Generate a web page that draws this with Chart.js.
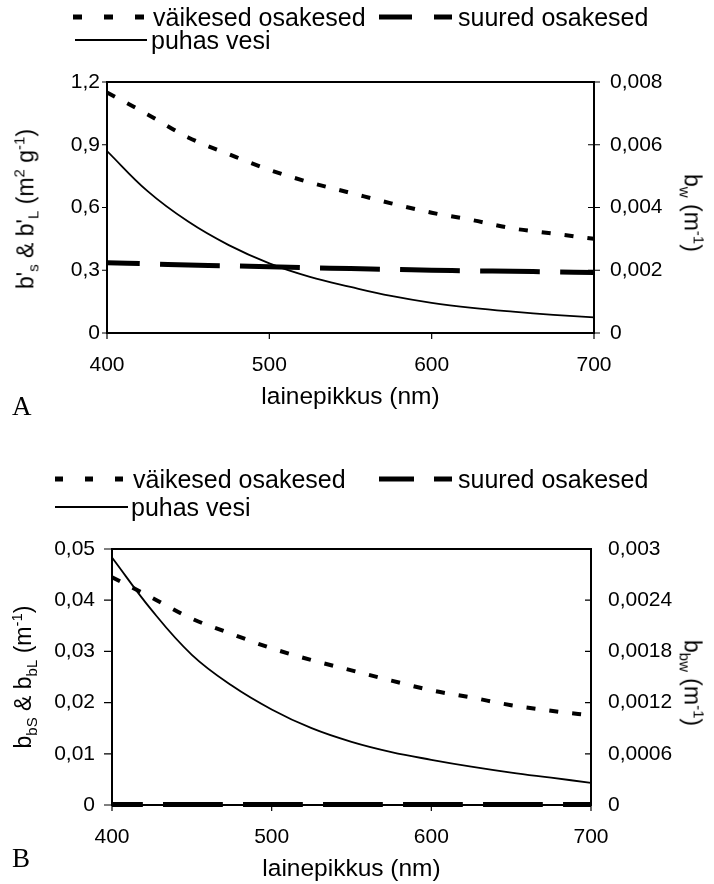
<!DOCTYPE html>
<html>
<head>
<meta charset="utf-8">
<script src="https://cdn.jsdelivr.net/npm/chart.js@4.4.1/dist/chart.umd.min.js"></script>
<style>
  body { margin: 0; background: #fff; }
  #wrap { position: relative; width: 714px; height: 884px; font-family: "Liberation Sans", Arial, sans-serif; color: #000; }
  canvas { position: absolute; left: 0; }
  .txt { position: absolute; font-size: 25px; white-space: nowrap; transform: translateY(-50%); line-height: 1; }
  .smp { position: absolute; transform: translateY(-50%); }
  .yt { position: absolute; font-size: 23px; white-space: nowrap; line-height: 1; }
  .yt sub, .yt sup { font-size: 15px; }
  .panel { position: absolute; font-family: "Liberation Serif", "Times New Roman", serif; font-size: 27px; }
</style>
</head>
<body>
<div id="wrap">
  <canvas id="chartA" width="714" height="412" style="top:0"></canvas>
  <canvas id="chartB" width="714" height="444" style="top:440px"></canvas>

  <!-- legend A -->
  <svg class="smp" style="left:70px;top:17px" width="80" height="6"><line x1="3" y1="3" x2="76" y2="3" stroke="#000" stroke-width="5" stroke-dasharray="9 22"/></svg>
  <span class="txt" style="left:153px;top:17px">väikesed osakesed</span>
  <svg class="smp" style="left:375px;top:17px" width="80" height="6"><line x1="4" y1="3" x2="77" y2="3" stroke="#000" stroke-width="5" stroke-dasharray="33 22"/></svg>
  <span class="txt" style="left:458px;top:17px">suured osakesed</span>
  <svg class="smp" style="left:75px;top:40px" width="75" height="4"><line x1="0" y1="2" x2="72" y2="2" stroke="#000" stroke-width="2"/></svg>
  <span class="txt" style="left:151px;top:40px">puhas vesi</span>

  <!-- legend B -->
  <svg class="smp" style="left:52px;top:479px" width="80" height="6"><line x1="3" y1="3" x2="76" y2="3" stroke="#000" stroke-width="5" stroke-dasharray="8 22"/></svg>
  <span class="txt" style="left:133px;top:479px">väikesed osakesed</span>
  <svg class="smp" style="left:375px;top:479px" width="80" height="6"><line x1="4" y1="3" x2="77" y2="3" stroke="#000" stroke-width="5" stroke-dasharray="35 20"/></svg>
  <span class="txt" style="left:458px;top:479px">suured osakesed</span>
  <svg class="smp" style="left:55px;top:507px" width="75" height="4"><line x1="0" y1="2" x2="73" y2="2" stroke="#000" stroke-width="2"/></svg>
  <span class="txt" style="left:131px;top:507px">puhas vesi</span>

  <!-- y axis titles -->
  <div class="yt" id="ylA" style="left:26px;top:209px">b'<sub>s</sub> &amp; b'<sub>L</sub> (m<sup>2</sup> g<sup>-1</sup>)</div>
  <div class="yt" id="yrA" style="left:692px;top:213px">b<sub>w</sub> (m<sup>-1</sup>)</div>
  <div class="yt" id="ylB" style="left:24px;top:677px">b<sub>bS</sub> &amp; b<sub>bL</sub> (m<sup>-1</sup>)</div>
  <div class="yt" id="yrB" style="left:692px;top:683px">b<sub>bw</sub> (m<sup>-1</sup>)</div>

  <div class="panel" style="left:12px;top:391px">A</div>
  <div class="panel" style="left:12px;top:843px">B</div>
</div>

<script>
// wavelengths (nm)
const wavelengths = [400, 425, 450, 475, 500, 525, 550, 575, 600, 625, 650, 675, 700];

// panel A
const smallA = [1.15, 1.045, 0.935, 0.855, 0.78, 0.72, 0.67, 0.62, 0.575, 0.54, 0.50, 0.475, 0.45];
const largeA = [0.336, 0.331, 0.325, 0.321, 0.317, 0.312, 0.308, 0.304, 0.300, 0.297, 0.295, 0.292, 0.289];
const waterA = [0.0058, 0.00452, 0.00355, 0.0028, 0.00222, 0.00179, 0.00147, 0.00118, 0.00096, 0.0008, 0.00068, 0.00058, 0.0005];

// panel B
const smallB = [0.0445, 0.0405, 0.0364, 0.0334, 0.0306, 0.0283, 0.0263, 0.0243, 0.0224, 0.021, 0.0195, 0.0184, 0.0175];
const largeB = [0.0001, 0.0001, 0.0001, 0.0001, 0.0001, 0.0001, 0.0001, 0.0001, 0.0001, 0.0001, 0.0001, 0.0001, 0.0001];
const waterB = [0.0029, 0.00228, 0.00176, 0.0014, 0.00112, 0.0009, 0.00074, 0.00062, 0.00053, 0.00045, 0.00038, 0.00032, 0.00026];

// tick values and labels
const xTicks = [400, 500, 600, 700];
const xLabels = ['400', '500', '600', '700'];
const leftTicksA = [0, 0.3, 0.6, 0.9, 1.2];
const leftLabelsA = ['0', '0,3', '0,6', '0,9', '1,2'];
const rightTicksA = [0, 0.002, 0.004, 0.006, 0.008];
const rightLabelsA = ['0', '0,002', '0,004', '0,006', '0,008'];
const leftTicksB = [0, 0.01, 0.02, 0.03, 0.04, 0.05];
const leftLabelsB = ['0', '0,01', '0,02', '0,03', '0,04', '0,05'];
const rightTicksB = [0, 0.0006, 0.0012, 0.0018, 0.0024, 0.003];
const rightLabelsB = ['0', '0,0006', '0,0012', '0,0018', '0,0024', '0,003'];

const seriesNames = ['väikesed osakesed', 'suured osakesed', 'puhas vesi'];
const xTitle = 'lainepikkus (nm)';

// rotate the html axis titles round their centre
document.querySelectorAll('.yt').forEach(el => {
  const rot = el.id.startsWith('yl') ? -90 : 90;
  el.style.transform = 'translate(-50%,-50%) rotate(' + rot + 'deg)';
});

const tickMarks = {
  id: 'tickMarks',
  afterDraw(chart, args, opts) {
    const ctx = chart.ctx;
    const a = chart.chartArea;
    ctx.save();
    ctx.strokeStyle = '#000';
    ctx.lineWidth = 2;
    ctx.strokeRect(a.left, a.top, a.right - a.left, a.bottom - a.top);
    ctx.lineWidth = 1.2;
    ctx.beginPath();
    const sx = chart.scales.x;
    sx.ticks.forEach((t, i) => {
      const p = sx.getPixelForTick(i);
      ctx.moveTo(p, a.bottom - opts.x[0]); ctx.lineTo(p, a.bottom + opts.x[1]);
    });
    const yl = chart.scales.yl;
    yl.ticks.forEach((t, i) => {
      const p = yl.getPixelForTick(i);
      ctx.moveTo(a.left + opts.yl[0], p); ctx.lineTo(a.left - opts.yl[1], p);
    });
    const yr = chart.scales.yr;
    yr.ticks.forEach((t, i) => {
      const p = yr.getPixelForTick(i);
      ctx.moveTo(a.right - opts.yr[0], p); ctx.lineTo(a.right + opts.yr[1], p);
    });
    ctx.stroke();
    ctx.restore();
  }
};

function pts(arr) {
  return wavelengths.map((w, i) => ({ x: w, y: arr[i] }));
}

function makeChart(id, s) {
  const font = { family: '"Liberation Sans", Arial, sans-serif', size: 21 };
  return new Chart(document.getElementById(id), {
    type: 'line',
    data: {
      datasets: [
        { label: seriesNames[0], data: pts(s.small), yAxisID: 'yl', borderColor: '#000', borderWidth: 4, borderDash: [9, 14], borderCapStyle: 'butt', pointRadius: 0, tension: 0.4, cubicInterpolationMode: 'monotone' },
        { label: seriesNames[1], data: pts(s.large), yAxisID: 'yl', borderColor: '#000', borderWidth: 5, borderDash: [60, 20], borderDashOffset: s.dashOff, borderCapStyle: 'butt', pointRadius: 0, tension: 0.4, clip: 6 },
        { label: seriesNames[2], data: pts(s.water), yAxisID: 'yr', borderColor: '#000', borderWidth: 1.8, pointRadius: 0, tension: 0.4 }
      ]
    },
    options: {
      responsive: false,
      animation: false,
      devicePixelRatio: 1,
      layout: { padding: { top: s.top, left: 0, right: 0, bottom: 0 } },
      plugins: {
        legend: { display: false },
        tooltip: { enabled: false },
        tickMarks: s.marks
      },
      scales: {
        x: {
          type: 'linear', min: 400, max: 700,
          afterBuildTicks: sc => { sc.ticks = xTicks.map(v => ({ value: v })); },
          afterFit: sc => { sc.height = s.xh; },
          ticks: { color: '#000', font, padding: s.xpad, maxRotation: 0, callback: v => xLabels[xTicks.indexOf(v)] },
          grid: { display: false, drawTicks: false },
          border: { display: false },
          title: { display: true, text: xTitle, color: '#000', font: { family: font.family, size: 24.5 }, padding: 0 }
        },
        yl: {
          position: 'left', min: 0, max: s.lt[s.lt.length - 1],
          afterBuildTicks: sc => { sc.ticks = s.lt.map(v => ({ value: v })); },
          afterFit: sc => { sc.width = s.lw; },
          ticks: { color: '#000', font, padding: s.lpad, callback: v => s.ll[s.lt.indexOf(v)] },
          grid: { display: false, drawTicks: false },
          border: { display: false }
        },
        yr: {
          position: 'right', min: 0, max: s.rt[s.rt.length - 1],
          afterBuildTicks: sc => { sc.ticks = s.rt.map(v => ({ value: v })); },
          afterFit: sc => { sc.width = s.rw; },
          ticks: { color: '#000', font, padding: s.rpad, callback: v => s.rl[s.rt.indexOf(v)] },
          grid: { display: false, drawTicks: false },
          border: { display: false }
        }
      }
    },
    plugins: [tickMarks]
  });
}

makeChart('chartA', {
  small: smallA, large: largeA, water: waterA,
  lt: leftTicksA, ll: leftLabelsA, rt: rightTicksA, rl: rightLabelsA,
  top: 82, xh: 79, xpad: 20, lw: 107, rw: 120, lpad: 7, rpad: 16, dashOff: 27,
  marks: { x: [0, 6], yl: [0, 5], yr: [6, 6] }
});

makeChart('chartB', {
  small: smallB, large: largeB, water: waterB,
  lt: leftTicksB, ll: leftLabelsB, rt: rightTicksB, rl: rightLabelsB,
  top: 109, xh: 79, xpad: 20, lw: 112, rw: 123, lpad: 17, rpad: 17, dashOff: 29,
  marks: { x: [0, 6], yl: [0, 8], yr: [6, 0] }
});
</script>
</body>
</html>
